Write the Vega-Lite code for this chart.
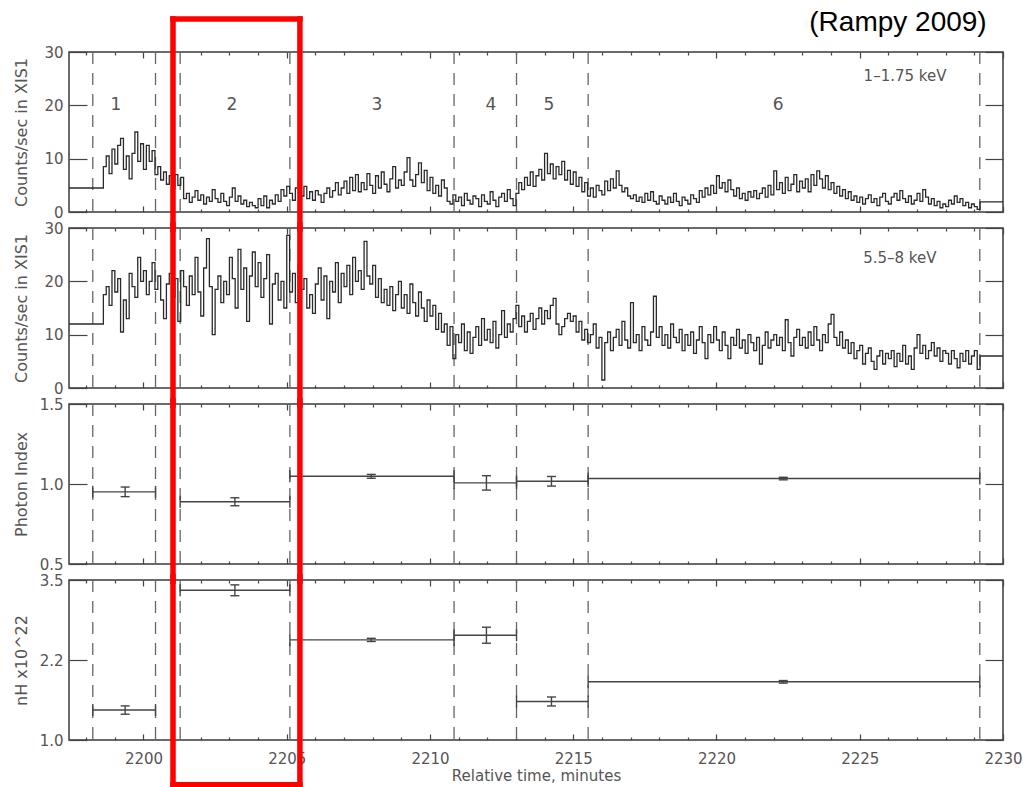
{
  "$schema": "https://vega.github.io/schema/vega-lite/v6.json",
  "background": "white",
  "padding": {"left": 12, "top": 8, "right": 5, "bottom": 2},
  "bounds": "flush",
  "spacing": 16,
  "config": {
    "view": {"stroke": "#3a3a3a", "strokeWidth": 1.5},
    "axis": {
      "grid": false, "domain": false,
      "labelFont": "DejaVu Sans", "labelFontSize": 15, "labelColor": "#555",
      "tickColor": "#444", "tickWidth": 1.2,
      "titleFont": "DejaVu Sans", "titleFontSize": 16, "titleFontWeight": "normal", "titleColor": "#555",
      "labelFlush": false, "labelOverlap": false, "labelBound": false
    }
  },
  "datasets": {
    "cuts": [{"t": 2198.23}, {"t": 2200.42}, {"t": 2201.28}, {"t": 2205.11}, {"t": 2210.84}, {"t": 2213.02}, {"t": 2215.52}, {"t": 2229.19}],
    "segs": [{"t": 2199.04, "n": "1"}, {"t": 2203.09, "n": "2"}, {"t": 2208.15, "n": "3"}, {"t": 2212.13, "n": "4"}, {"t": 2214.15, "n": "5"}, {"t": 2222.15, "n": "6"}],
    "box": [{"t0": 2201.03, "t1": 2205.46}],
    "fits": [
      {"seg": 1, "t0": 2198.23, "t1": 2200.42, "tm": 2199.36, "g": 0.951, "g_lo": 0.921, "g_hi": 0.981, "nh": 1.468, "nh_lo": 1.403, "nh_hi": 1.533},
      {"seg": 2, "t0": 2201.28, "t1": 2205.11, "tm": 2203.19, "g": 0.889, "g_lo": 0.864, "g_hi": 0.914, "nh": 3.339, "nh_lo": 3.254, "nh_hi": 3.424},
      {"seg": 3, "t0": 2205.11, "t1": 2210.84, "tm": 2207.95, "g": 1.048, "g_lo": 1.036, "g_hi": 1.06, "nh": 2.564, "nh_lo": 2.539, "nh_hi": 2.589},
      {"seg": 4, "t0": 2210.84, "t1": 2213.02, "tm": 2211.97, "g": 1.007, "g_lo": 0.962, "g_hi": 1.052, "nh": 2.637, "nh_lo": 2.512, "nh_hi": 2.762},
      {"seg": 5, "t0": 2213.02, "t1": 2215.52, "tm": 2214.24, "g": 1.017, "g_lo": 0.987, "g_hi": 1.047, "nh": 1.602, "nh_lo": 1.532, "nh_hi": 1.672},
      {"seg": 6, "t0": 2215.52, "t1": 2229.19, "tm": 2222.33, "g": 1.034, "g_lo": 1.026, "g_hi": 1.042, "nh": 1.909, "nh_lo": 1.889, "nh_hi": 1.929}
    ],
    "lc": [
      {"t":2197.4,"s":4.5,"h":12},
      {"t":2198.6,"s":8.5,"h":17.5},{"t":2198.7,"s":10.5,"h":19},{"t":2198.8,"s":7.2,"h":15.5},{"t":2198.9,"s":11.8,"h":22},
      {"t":2199,"s":9,"h":18},{"t":2199.1,"s":12.5,"h":20.5},{"t":2199.2,"s":13.8,"h":10.5},{"t":2199.3,"s":8,"h":16.5},{"t":2199.4,"s":10.5,"h":13},{"t":2199.5,"s":6.2,"h":21.5},{"t":2199.6,"s":11,"h":19},{"t":2199.7,"s":15,"h":17},{"t":2199.8,"s":9.5,"h":24.5},{"t":2199.9,"s":12.8,"h":20},
      {"t":2200,"s":8,"h":22},{"t":2200.1,"s":12.5,"h":17.5},{"t":2200.2,"s":9.5,"h":20},{"t":2200.3,"s":11.5,"h":23.5},{"t":2200.4,"s":7,"h":18.5},{"t":2200.5,"s":8.5,"h":21},{"t":2200.6,"s":6,"h":16.5},{"t":2200.7,"s":7.5,"h":13},{"t":2200.8,"s":5.2,"h":19.5},{"t":2200.9,"s":6.8,"h":21.5},
      {"t":2201,"s":4.5,"h":17},{"t":2201.1,"s":7,"h":20.5},{"t":2201.2,"s":5,"h":12.5},{"t":2201.3,"s":6.5,"h":22},{"t":2201.4,"s":2.5,"h":19},{"t":2201.5,"s":3.5,"h":15.5},{"t":2201.6,"s":1.8,"h":21},{"t":2201.7,"s":2.8,"h":17.5},{"t":2201.8,"s":4,"h":24.5},{"t":2201.9,"s":2.2,"h":18},
      {"t":2202,"s":3.2,"h":13.5},{"t":2202.1,"s":1.5,"h":22.5},{"t":2202.2,"s":2.8,"h":28},{"t":2202.3,"s":2,"h":19},{"t":2202.4,"s":4.2,"h":10},{"t":2202.5,"s":2.5,"h":18.5},{"t":2202.6,"s":1.8,"h":21},{"t":2202.7,"s":3.5,"h":16},{"t":2202.8,"s":2,"h":20},{"t":2202.9,"s":1.2,"h":17.5},
      {"t":2203,"s":2.8,"h":24.5},{"t":2203.1,"s":4.5,"h":20.5},{"t":2203.2,"s":2,"h":15},{"t":2203.3,"s":3,"h":26},{"t":2203.4,"s":1.5,"h":18.5},{"t":2203.5,"s":2.2,"h":22.5},{"t":2203.6,"s":1,"h":12.5},{"t":2203.7,"s":1.8,"h":21},{"t":2203.8,"s":1.2,"h":25.5},{"t":2203.9,"s":0.8,"h":19},
      {"t":2204,"s":2.5,"h":23.5},{"t":2204.1,"s":1.2,"h":17},{"t":2204.2,"s":3,"h":20.5},{"t":2204.3,"s":0.8,"h":25},{"t":2204.4,"s":2.2,"h":12},{"t":2204.5,"s":1.5,"h":19.5},{"t":2204.6,"s":3.2,"h":21.5},{"t":2204.7,"s":2,"h":16.5},{"t":2204.8,"s":4.2,"h":20},{"t":2204.9,"s":3,"h":15},
      {"t":2205,"s":4.8,"h":28.6},{"t":2205.1,"s":3.5,"h":18},{"t":2205.2,"s":2.2,"h":21.5},{"t":2205.3,"s":4.5,"h":16},{"t":2205.4,"s":6,"h":23},{"t":2205.5,"s":3,"h":18.5},{"t":2205.6,"s":4.8,"h":20.5},{"t":2205.7,"s":2.5,"h":15},{"t":2205.8,"s":3.8,"h":17.5},{"t":2205.9,"s":2.2,"h":14},
      {"t":2206,"s":4,"h":19.5},{"t":2206.1,"s":3.2,"h":22.5},{"t":2206.2,"s":1.8,"h":16.5},{"t":2206.3,"s":3.5,"h":21},{"t":2206.4,"s":4.5,"h":13},{"t":2206.5,"s":2.8,"h":20},{"t":2206.6,"s":4,"h":18},{"t":2206.7,"s":5.5,"h":23.5},{"t":2206.8,"s":3.2,"h":16},{"t":2206.9,"s":4.5,"h":21.5},
      {"t":2207,"s":5.8,"h":19},{"t":2207.1,"s":3.5,"h":23},{"t":2207.2,"s":6.5,"h":17.5},{"t":2207.3,"s":4,"h":24.5},{"t":2207.4,"s":7,"h":20},{"t":2207.5,"s":3.8,"h":22},{"t":2207.6,"s":5.5,"h":18.5},{"t":2207.7,"s":4.2,"h":27.5},{"t":2207.8,"s":7.2,"h":21},{"t":2207.9,"s":5,"h":19.5},
      {"t":2208,"s":3.5,"h":23},{"t":2208.1,"s":6.8,"h":17},{"t":2208.2,"s":4.5,"h":20.5},{"t":2208.3,"s":7.5,"h":16},{"t":2208.4,"s":5.2,"h":18.5},{"t":2208.5,"s":3.8,"h":15.5},{"t":2208.6,"s":6.2,"h":19},{"t":2208.7,"s":8.5,"h":14.5},{"t":2208.8,"s":4.5,"h":17.5},{"t":2208.9,"s":6,"h":20},
      {"t":2209,"s":5,"h":15},{"t":2209.1,"s":7.5,"h":17.5},{"t":2209.2,"s":10.2,"h":14},{"t":2209.3,"s":6,"h":19.5},{"t":2209.4,"s":4.8,"h":16},{"t":2209.5,"s":7,"h":13.5},{"t":2209.6,"s":9.2,"h":18},{"t":2209.7,"s":5.5,"h":15},{"t":2209.8,"s":7.8,"h":12.5},{"t":2209.9,"s":4,"h":16.5},
      {"t":2210,"s":6.5,"h":13.5},{"t":2210.1,"s":3.5,"h":15.5},{"t":2210.2,"s":5,"h":11},{"t":2210.3,"s":3,"h":14},{"t":2210.4,"s":6,"h":10.5},{"t":2210.5,"s":4.5,"h":12},{"t":2210.6,"s":2,"h":8},{"t":2210.7,"s":1.5,"h":11.5},{"t":2210.8,"s":3.2,"h":5.5},{"t":2210.9,"s":2,"h":10},
      {"t":2211,"s":2.8,"h":8.5},{"t":2211.1,"s":1.2,"h":12},{"t":2211.2,"s":3.5,"h":7},{"t":2211.3,"s":2.2,"h":10.5},{"t":2211.4,"s":1.5,"h":6.5},{"t":2211.5,"s":3,"h":9.5},{"t":2211.6,"s":2.5,"h":11.5},{"t":2211.7,"s":1,"h":8},{"t":2211.8,"s":3.2,"h":13},{"t":2211.9,"s":2,"h":9},
      {"t":2212,"s":1.5,"h":11},{"t":2212.1,"s":3.8,"h":8.5},{"t":2212.2,"s":2.2,"h":12.5},{"t":2212.3,"s":1,"h":7.5},{"t":2212.4,"s":2.8,"h":10},{"t":2212.5,"s":3.5,"h":14.5},{"t":2212.6,"s":2,"h":9.5},{"t":2212.7,"s":4.2,"h":12},{"t":2212.8,"s":2.5,"h":10.5},{"t":2212.9,"s":1.2,"h":13},
      {"t":2213,"s":3.5,"h":15.5},{"t":2213.1,"s":5.5,"h":11.5},{"t":2213.2,"s":4.2,"h":13.5},{"t":2213.3,"s":6.5,"h":10.5},{"t":2213.4,"s":5,"h":12.5},{"t":2213.5,"s":7.5,"h":14},{"t":2213.6,"s":4.8,"h":11},{"t":2213.7,"s":6.8,"h":13},{"t":2213.8,"s":8,"h":15},{"t":2213.9,"s":6,"h":12},
      {"t":2214,"s":11,"h":14.5},{"t":2214.1,"s":7.2,"h":13},{"t":2214.2,"s":9,"h":15.5},{"t":2214.3,"s":6.2,"h":16.8},{"t":2214.4,"s":8.5,"h":12},{"t":2214.5,"s":7,"h":10},{"t":2214.6,"s":9.5,"h":11.5},{"t":2214.7,"s":6,"h":13},{"t":2214.8,"s":7.8,"h":14},{"t":2214.9,"s":5.2,"h":12.5},
      {"t":2215,"s":7.5,"h":13.5},{"t":2215.1,"s":4.8,"h":10.5},{"t":2215.2,"s":6.5,"h":12.5},{"t":2215.3,"s":3.8,"h":9},{"t":2215.4,"s":5.5,"h":11},{"t":2215.5,"s":3,"h":8.5},{"t":2215.6,"s":4.5,"h":10},{"t":2215.7,"s":2.8,"h":12},{"t":2215.8,"s":5,"h":7.5},{"t":2215.9,"s":4,"h":9.5},
      {"t":2216,"s":3.2,"h":1.5},{"t":2216.1,"s":5.8,"h":8.5},{"t":2216.2,"s":4,"h":10.5},{"t":2216.3,"s":6.2,"h":7},{"t":2216.4,"s":4.5,"h":9.5},{"t":2216.5,"s":7.7,"h":11},{"t":2216.6,"s":5,"h":8},{"t":2216.7,"s":3.8,"h":12.5},{"t":2216.8,"s":4.5,"h":9},{"t":2216.9,"s":3,"h":7.5},
      {"t":2217,"s":2.5,"h":16},{"t":2217.1,"s":3.2,"h":8.5},{"t":2217.2,"s":2,"h":10},{"t":2217.3,"s":2.8,"h":7},{"t":2217.4,"s":1.8,"h":11.5},{"t":2217.5,"s":3.5,"h":9},{"t":2217.6,"s":2.2,"h":8},{"t":2217.7,"s":3.8,"h":10.5},{"t":2217.8,"s":2,"h":17.2},{"t":2217.9,"s":1.5,"h":9.5},
      {"t":2218,"s":3,"h":11.5},{"t":2218.1,"s":2.2,"h":8},{"t":2218.2,"s":1.5,"h":10},{"t":2218.3,"s":2.8,"h":7.5},{"t":2218.4,"s":1.8,"h":12},{"t":2218.5,"s":3.5,"h":9.5},{"t":2218.6,"s":2,"h":8.5},{"t":2218.7,"s":1.2,"h":11},{"t":2218.8,"s":2.8,"h":7},{"t":2218.9,"s":2.2,"h":10},
      {"t":2219,"s":1.5,"h":8},{"t":2219.1,"s":3.2,"h":10.5},{"t":2219.2,"s":2.5,"h":6.5},{"t":2219.3,"s":1.8,"h":9},{"t":2219.4,"s":4,"h":11.5},{"t":2219.5,"s":2.8,"h":8.5},{"t":2219.6,"s":4.5,"h":5.5},{"t":2219.7,"s":3.2,"h":10},{"t":2219.8,"s":5,"h":8.5},{"t":2219.9,"s":3.5,"h":11.5},
      {"t":2220,"s":6.8,"h":9},{"t":2220.1,"s":4.5,"h":7},{"t":2220.2,"s":5.5,"h":10.5},{"t":2220.3,"s":3.8,"h":8},{"t":2220.4,"s":6,"h":5.5},{"t":2220.5,"s":4.2,"h":9.5},{"t":2220.6,"s":3,"h":8},{"t":2220.7,"s":4.5,"h":11},{"t":2220.8,"s":2.5,"h":7.5},{"t":2220.9,"s":3.5,"h":9},
      {"t":2221,"s":2.2,"h":6.5},{"t":2221.1,"s":3.8,"h":10},{"t":2221.2,"s":2.8,"h":8.5},{"t":2221.3,"s":4,"h":7},{"t":2221.4,"s":2.5,"h":9.5},{"t":2221.5,"s":3.5,"h":4.5},{"t":2221.6,"s":4.5,"h":8},{"t":2221.7,"s":2.8,"h":10.5},{"t":2221.8,"s":5,"h":7.5},{"t":2221.9,"s":3.2,"h":9},
      {"t":2222,"s":7.7,"h":10},{"t":2222.1,"s":4.2,"h":8},{"t":2222.2,"s":5.5,"h":9.5},{"t":2222.3,"s":3.5,"h":7},{"t":2222.4,"s":6.5,"h":12.8},{"t":2222.5,"s":4,"h":8.5},{"t":2222.6,"s":5.2,"h":6},{"t":2222.7,"s":7,"h":9.5},{"t":2222.8,"s":3.8,"h":11},{"t":2222.9,"s":5.8,"h":8},
      {"t":2223,"s":4.5,"h":9.5},{"t":2223.1,"s":6.2,"h":7.5},{"t":2223.2,"s":3.8,"h":10.5},{"t":2223.3,"s":7,"h":8},{"t":2223.4,"s":5,"h":11.5},{"t":2223.5,"s":7.7,"h":9},{"t":2223.6,"s":6.2,"h":7},{"t":2223.7,"s":4.5,"h":10},{"t":2223.8,"s":6.8,"h":8.5},{"t":2223.9,"s":4.2,"h":12},
      {"t":2224,"s":5.5,"h":13.8},{"t":2224.1,"s":3.5,"h":9.5},{"t":2224.2,"s":4.8,"h":8},{"t":2224.3,"s":3,"h":10.5},{"t":2224.4,"s":4.2,"h":7.5},{"t":2224.5,"s":2.5,"h":9},{"t":2224.6,"s":3.8,"h":6.5},{"t":2224.7,"s":2.2,"h":8.5},{"t":2224.8,"s":3,"h":5.5},{"t":2224.9,"s":1.8,"h":7},
      {"t":2225,"s":2.8,"h":8},{"t":2225.1,"s":1.5,"h":4.5},{"t":2225.2,"s":2.5,"h":6.5},{"t":2225.3,"s":3.2,"h":7.5},{"t":2225.4,"s":1.8,"h":5},{"t":2225.5,"s":2.5,"h":3.5},{"t":2225.6,"s":1.2,"h":6},{"t":2225.7,"s":2.8,"h":7},{"t":2225.8,"s":3.5,"h":4.5},{"t":2225.9,"s":2,"h":6.5},
      {"t":2226,"s":1.5,"h":5.5},{"t":2226.1,"s":2.8,"h":7},{"t":2226.2,"s":3.5,"h":4},{"t":2226.3,"s":2.2,"h":6.5},{"t":2226.4,"s":4,"h":5},{"t":2226.5,"s":2.5,"h":8},{"t":2226.6,"s":1.8,"h":4.5},{"t":2226.7,"s":3,"h":6},{"t":2226.8,"s":1.5,"h":3.5},{"t":2226.9,"s":2.2,"h":7.5},
      {"t":2227,"s":3.5,"h":10},{"t":2227.1,"s":2,"h":6.5},{"t":2227.2,"s":4.2,"h":8},{"t":2227.3,"s":2.8,"h":5.5},{"t":2227.4,"s":1.5,"h":7},{"t":2227.5,"s":2.5,"h":8.5},{"t":2227.6,"s":1.2,"h":6},{"t":2227.7,"s":2,"h":7.5},{"t":2227.8,"s":0.8,"h":5},{"t":2227.9,"s":1.5,"h":7},
      {"t":2228,"s":1,"h":6.5},{"t":2228.1,"s":2.2,"h":4.5},{"t":2228.2,"s":1.5,"h":7},{"t":2228.3,"s":3,"h":5.5},{"t":2228.4,"s":1.8,"h":3.8},{"t":2228.5,"s":2.5,"h":6.5},{"t":2228.6,"s":1.2,"h":5},{"t":2228.7,"s":1.8,"h":7},{"t":2228.8,"s":0.8,"h":4.5},{"t":2228.9,"s":1.5,"h":6},
      {"t":2229,"s":1,"h":7},{"t":2229.1,"s":0.5,"h":3.5},{"t":2229.2,"s":1.9,"h":6},{"t":2230,"s":1.9,"h":6}
    ]
  },
  "vconcat": [
    {
      "width": 934, "height": 160,
      "resolve": {"axis": {"x": "independent", "y": "independent"}},
      "layer": [
        {
          "data": {"name": "cuts"},
          "mark": {"type": "rule", "strokeDash": [12, 9], "color": "#666", "strokeWidth": 1.3},
          "encoding": {"x": {"field": "t", "type": "quantitative", "scale": {"domain": [2197.4, 2230], "nice": false, "zero": false},
            "axis": {"orient": "top", "values": [2198,2199,2200,2201,2202,2203,2204,2205,2206,2207,2208,2209,2210,2211,2212,2213,2214,2215,2216,2217,2218,2219,2220,2221,2222,2223,2224,2225,2226,2227,2228,2229,2230], "labels": false, "tickSize": {"condition": {"test": "datum.value % 5 === 0", "value": -6}, "value": -3}, "title": null}}}
        },
        {
          "data": {"name": "lc"},
          "mark": {"type": "line", "interpolate": "step-after", "color": "#2a2a2a", "strokeWidth": 1.3},
          "encoding": {
            "x": {"field": "t", "type": "quantitative", "scale": {"domain": [2197.4, 2230], "nice": false, "zero": false},
              "axis": {"orient": "bottom", "values": [2198,2199,2200,2201,2202,2203,2204,2205,2206,2207,2208,2209,2210,2211,2212,2213,2214,2215,2216,2217,2218,2219,2220,2221,2222,2223,2224,2225,2226,2227,2228,2229,2230], "labels": false, "tickSize": {"condition": {"test": "datum.value % 5 === 0", "value": -6}, "value": -3}, "title": null}},
            "y": {"field": "s", "type": "quantitative", "scale": {"domain": [0, 30], "nice": false, "zero": false},
              "axis": {"orient": "left", "values": [0, 10, 20, 30], "tickSize": -18, "labelPadding": 24, "title": "Counts/sec in XIS1", "titlePadding": 10, "minExtent": 30, "maxExtent": 30}}
          }
        },
        {
          "data": {"name": "segs"},
          "mark": {"type": "text", "font": "DejaVu Sans", "fontSize": 17, "color": "#555"},
          "encoding": {
            "x": {"field": "t", "type": "quantitative", "axis": null},
            "y": {"datum": 20, "type": "quantitative", "axis": null},
            "text": {"field": "n"}
          }
        },
        {
          "data": {"name": "box"},
          "mark": {"type": "text", "font": "DejaVu Sans", "fontSize": 15, "color": "#555"},
          "encoding": {
            "x": {"datum": 2226.58, "type": "quantitative", "axis": null},
            "y": {"datum": 25.5, "type": "quantitative", "axis": null},
            "text": {"value": "1–1.75 keV"}
          }
        },
        {
          "data": {"name": "box"},
          "mark": {"type": "rule", "color": "#ff0000", "strokeWidth": 5.5, "strokeCap": "square"},
          "encoding": {
            "x": {"field": "t0", "type": "quantitative", "axis": null},
            "y": {"datum": 36.2, "type": "quantitative", "scale": {"domain": [0, 30], "nice": false, "zero": false},
              "axis": {"orient": "right", "values": [0, 10, 20, 30], "labels": false, "tickSize": -18, "title": null}},
            "y2": {"datum": -3.2}
          }
        },
        {
          "data": {"name": "box"},
          "mark": {"type": "rule", "color": "#ff0000", "strokeWidth": 5.5, "strokeCap": "square"},
          "encoding": {
            "x": {"field": "t1", "type": "quantitative", "axis": null},
            "y": {"datum": 36.2, "type": "quantitative", "axis": null},
            "y2": {"datum": -3.2}
          }
        },
        {
          "data": {"name": "box"},
          "mark": {"type": "rule", "color": "#ff0000", "strokeWidth": 5.5, "strokeCap": "square"},
          "encoding": {
            "x": {"field": "t0", "type": "quantitative", "axis": null},
            "x2": {"field": "t1"},
            "y": {"datum": 36.2, "type": "quantitative", "axis": null}
          }
        },
        {
          "data": {"name": "box"},
          "mark": {"type": "text", "font": "Liberation Sans", "fontSize": 28, "color": "#000", "align": "right", "baseline": "middle"},
          "encoding": {
            "x": {"datum": 2229.43, "type": "quantitative", "axis": null},
            "y": {"datum": 35.4, "type": "quantitative", "axis": null},
            "text": {"value": "(Rampy 2009)"}
          }
        }
      ]
    },
    {
      "width": 934, "height": 160,
      "resolve": {"axis": {"x": "independent", "y": "independent"}},
      "layer": [
        {
          "data": {"name": "cuts"},
          "mark": {"type": "rule", "strokeDash": [12, 9], "color": "#666", "strokeWidth": 1.3},
          "encoding": {"x": {"field": "t", "type": "quantitative", "scale": {"domain": [2197.4, 2230], "nice": false, "zero": false},
            "axis": {"orient": "top", "values": [2198,2199,2200,2201,2202,2203,2204,2205,2206,2207,2208,2209,2210,2211,2212,2213,2214,2215,2216,2217,2218,2219,2220,2221,2222,2223,2224,2225,2226,2227,2228,2229,2230], "labels": false, "tickSize": {"condition": {"test": "datum.value % 5 === 0", "value": -6}, "value": -3}, "title": null}}}
        },
        {
          "data": {"name": "lc"},
          "mark": {"type": "line", "interpolate": "step-after", "color": "#2a2a2a", "strokeWidth": 1.3},
          "encoding": {
            "x": {"field": "t", "type": "quantitative", "scale": {"domain": [2197.4, 2230], "nice": false, "zero": false},
              "axis": {"orient": "bottom", "values": [2198,2199,2200,2201,2202,2203,2204,2205,2206,2207,2208,2209,2210,2211,2212,2213,2214,2215,2216,2217,2218,2219,2220,2221,2222,2223,2224,2225,2226,2227,2228,2229,2230], "labels": false, "tickSize": {"condition": {"test": "datum.value % 5 === 0", "value": -6}, "value": -3}, "title": null}},
            "y": {"field": "h", "type": "quantitative", "scale": {"domain": [0, 30], "nice": false, "zero": false},
              "axis": {"orient": "left", "values": [0, 10, 20, 30], "tickSize": -18, "labelPadding": 24, "title": "Counts/sec in XIS1", "titlePadding": 10, "minExtent": 30, "maxExtent": 30}}
          }
        },
        {
          "data": {"name": "box"},
          "mark": {"type": "text", "font": "DejaVu Sans", "fontSize": 15, "color": "#555"},
          "encoding": {
            "x": {"datum": 2226.4, "type": "quantitative", "axis": null},
            "y": {"datum": 24.3, "type": "quantitative", "axis": null},
            "text": {"value": "5.5–8 keV"}
          }
        },
        {
          "data": {"name": "box"},
          "mark": {"type": "rule", "color": "#ff0000", "strokeWidth": 5.5, "strokeCap": "square"},
          "encoding": {
            "x": {"field": "t0", "type": "quantitative", "axis": null},
            "y": {"datum": 30.5, "type": "quantitative", "scale": {"domain": [0, 30], "nice": false, "zero": false},
              "axis": {"orient": "right", "values": [0, 10, 20, 30], "labels": false, "tickSize": -18, "title": null}},
            "y2": {"datum": -3.2}
          }
        },
        {
          "data": {"name": "box"},
          "mark": {"type": "rule", "color": "#ff0000", "strokeWidth": 5.5, "strokeCap": "square"},
          "encoding": {
            "x": {"field": "t1", "type": "quantitative", "axis": null},
            "y": {"datum": 30.5, "type": "quantitative", "axis": null},
            "y2": {"datum": -3.2}
          }
        }
      ]
    },
    {
      "width": 934, "height": 160,
      "resolve": {"axis": {"x": "independent", "y": "independent"}},
      "layer": [
        {
          "data": {"name": "cuts"},
          "mark": {"type": "rule", "strokeDash": [12, 9], "color": "#666", "strokeWidth": 1.3},
          "encoding": {"x": {"field": "t", "type": "quantitative", "scale": {"domain": [2197.4, 2230], "nice": false, "zero": false},
            "axis": {"orient": "top", "values": [2198,2199,2200,2201,2202,2203,2204,2205,2206,2207,2208,2209,2210,2211,2212,2213,2214,2215,2216,2217,2218,2219,2220,2221,2222,2223,2224,2225,2226,2227,2228,2229,2230], "labels": false, "tickSize": {"condition": {"test": "datum.value % 5 === 0", "value": -6}, "value": -3}, "title": null}}}
        },
        {
          "data": {"name": "fits"},
          "mark": {"type": "rule", "color": "#444", "strokeWidth": 1.4},
          "encoding": {
            "x": {"field": "t0", "type": "quantitative", "scale": {"domain": [2197.4, 2230], "nice": false, "zero": false},
              "axis": {"orient": "bottom", "values": [2198,2199,2200,2201,2202,2203,2204,2205,2206,2207,2208,2209,2210,2211,2212,2213,2214,2215,2216,2217,2218,2219,2220,2221,2222,2223,2224,2225,2226,2227,2228,2229,2230], "labels": false, "tickSize": {"condition": {"test": "datum.value % 5 === 0", "value": -6}, "value": -3}, "title": null}},
            "x2": {"field": "t1"},
            "y": {"field": "g", "type": "quantitative", "scale": {"domain": [0.5, 1.5], "nice": false, "zero": false},
              "axis": {"orient": "left", "values": [0.5, 1.0, 1.5], "format": ".1f", "tickSize": -18, "labelPadding": 24, "title": "Photon Index", "titlePadding": 10, "minExtent": 30, "maxExtent": 30}}
          }
        },
        {
          "data": {"name": "fits"},
          "mark": {"type": "tick", "orient": "vertical", "size": 12, "thickness": 1.4, "color": "#444", "opacity": 1},
          "encoding": {
            "x": {"field": "t0", "type": "quantitative", "axis": null},
            "y": {"field": "g", "type": "quantitative", "axis": null}
          }
        },
        {
          "data": {"name": "fits"},
          "mark": {"type": "tick", "orient": "vertical", "size": 12, "thickness": 1.4, "color": "#444", "opacity": 1},
          "encoding": {
            "x": {"field": "t1", "type": "quantitative", "axis": null},
            "y": {"field": "g", "type": "quantitative", "axis": null}
          }
        },
        {
          "data": {"name": "fits"},
          "mark": {"type": "rule", "color": "#444", "strokeWidth": 1.4},
          "encoding": {
            "x": {"field": "tm", "type": "quantitative", "axis": null},
            "y": {"field": "g_lo", "type": "quantitative", "axis": null},
            "y2": {"field": "g_hi"}
          }
        },
        {
          "data": {"name": "fits"},
          "mark": {"type": "tick", "orient": "horizontal", "size": 9, "thickness": 1.4, "color": "#444", "opacity": 1},
          "encoding": {
            "x": {"field": "tm", "type": "quantitative", "axis": null},
            "y": {"field": "g_lo", "type": "quantitative", "axis": null}
          }
        },
        {
          "data": {"name": "fits"},
          "mark": {"type": "tick", "orient": "horizontal", "size": 9, "thickness": 1.4, "color": "#444", "opacity": 1},
          "encoding": {
            "x": {"field": "tm", "type": "quantitative", "axis": null},
            "y": {"field": "g_hi", "type": "quantitative", "axis": null}
          }
        },
        {
          "data": {"name": "box"},
          "mark": {"type": "rule", "color": "#ff0000", "strokeWidth": 5.5, "strokeCap": "square"},
          "encoding": {
            "x": {"field": "t0", "type": "quantitative", "axis": null},
            "y": {"datum": 1.52, "type": "quantitative", "scale": {"domain": [0.5, 1.5], "nice": false, "zero": false},
              "axis": {"orient": "right", "values": [0.5, 1.0, 1.5], "labels": false, "tickSize": -18, "title": null}},
            "y2": {"datum": 0.39}
          }
        },
        {
          "data": {"name": "box"},
          "mark": {"type": "rule", "color": "#ff0000", "strokeWidth": 5.5, "strokeCap": "square"},
          "encoding": {
            "x": {"field": "t1", "type": "quantitative", "axis": null},
            "y": {"datum": 1.52, "type": "quantitative", "axis": null},
            "y2": {"datum": 0.39}
          }
        }
      ]
    },
    {
      "width": 934, "height": 160,
      "resolve": {"axis": {"x": "independent", "y": "independent"}},
      "layer": [
        {
          "data": {"name": "cuts"},
          "mark": {"type": "rule", "strokeDash": [12, 9], "color": "#666", "strokeWidth": 1.3},
          "encoding": {"x": {"field": "t", "type": "quantitative", "scale": {"domain": [2197.4, 2230], "nice": false, "zero": false},
            "axis": {"orient": "top", "values": [2198,2199,2200,2201,2202,2203,2204,2205,2206,2207,2208,2209,2210,2211,2212,2213,2214,2215,2216,2217,2218,2219,2220,2221,2222,2223,2224,2225,2226,2227,2228,2229,2230], "labels": false, "tickSize": {"condition": {"test": "datum.value % 5 === 0", "value": -6}, "value": -3}, "title": null}}}
        },
        {
          "data": {"name": "fits"},
          "mark": {"type": "rule", "color": "#444", "strokeWidth": 1.4},
          "encoding": {
            "x": {"field": "t0", "type": "quantitative", "scale": {"domain": [2197.4, 2230], "nice": false, "zero": false},
              "axis": {"orient": "bottom", "values": [2198,2199,2200,2201,2202,2203,2204,2205,2206,2207,2208,2209,2210,2211,2212,2213,2214,2215,2216,2217,2218,2219,2220,2221,2222,2223,2224,2225,2226,2227,2228,2229,2230],
                "tickSize": {"condition": {"test": "datum.value % 5 === 0", "value": -6}, "value": -3},
                "labelPadding": 17,
                "labelExpr": "datum.value % 5 === 0 ? format(datum.value, 'd') : ''",
                "title": "Relative time, minutes", "titleFontSize": 15, "titlePadding": -1}},
            "x2": {"field": "t1"},
            "y": {"field": "nh", "type": "quantitative", "scale": {"domain": [1.0, 3.5], "nice": false, "zero": false},
              "axis": {"orient": "left", "values": [1.0, 2.25, 3.5], "labelExpr": "datum.value === 2.25 ? '2.2' : format(datum.value, '.1f')", "tickSize": -18, "labelPadding": 24, "title": "nH x10^22", "titlePadding": 10, "minExtent": 30, "maxExtent": 30}}
          }
        },
        {
          "data": {"name": "fits"},
          "mark": {"type": "tick", "orient": "vertical", "size": 12, "thickness": 1.4, "color": "#444", "opacity": 1},
          "encoding": {
            "x": {"field": "t0", "type": "quantitative", "axis": null},
            "y": {"field": "nh", "type": "quantitative", "axis": null}
          }
        },
        {
          "data": {"name": "fits"},
          "mark": {"type": "tick", "orient": "vertical", "size": 12, "thickness": 1.4, "color": "#444", "opacity": 1},
          "encoding": {
            "x": {"field": "t1", "type": "quantitative", "axis": null},
            "y": {"field": "nh", "type": "quantitative", "axis": null}
          }
        },
        {
          "data": {"name": "fits"},
          "mark": {"type": "rule", "color": "#444", "strokeWidth": 1.4},
          "encoding": {
            "x": {"field": "tm", "type": "quantitative", "axis": null},
            "y": {"field": "nh_lo", "type": "quantitative", "axis": null},
            "y2": {"field": "nh_hi"}
          }
        },
        {
          "data": {"name": "fits"},
          "mark": {"type": "tick", "orient": "horizontal", "size": 9, "thickness": 1.4, "color": "#444", "opacity": 1},
          "encoding": {
            "x": {"field": "tm", "type": "quantitative", "axis": null},
            "y": {"field": "nh_lo", "type": "quantitative", "axis": null}
          }
        },
        {
          "data": {"name": "fits"},
          "mark": {"type": "tick", "orient": "horizontal", "size": 9, "thickness": 1.4, "color": "#444", "opacity": 1},
          "encoding": {
            "x": {"field": "tm", "type": "quantitative", "axis": null},
            "y": {"field": "nh_hi", "type": "quantitative", "axis": null}
          }
        },
        {
          "data": {"name": "box"},
          "mark": {"type": "rule", "color": "#ff0000", "strokeWidth": 5.5, "strokeCap": "square"},
          "encoding": {
            "x": {"field": "t0", "type": "quantitative", "axis": null},
            "y": {"datum": 3.55, "type": "quantitative", "scale": {"domain": [1.0, 3.5], "nice": false, "zero": false},
              "axis": {"orient": "right", "values": [1.0, 2.25, 3.5], "labels": false, "tickSize": -18, "title": null}},
            "y2": {"datum": 0.3}
          }
        },
        {
          "data": {"name": "box"},
          "mark": {"type": "rule", "color": "#ff0000", "strokeWidth": 5.5, "strokeCap": "square"},
          "encoding": {
            "x": {"field": "t1", "type": "quantitative", "axis": null},
            "y": {"datum": 3.55, "type": "quantitative", "axis": null},
            "y2": {"datum": 0.3}
          }
        },
        {
          "data": {"name": "box"},
          "mark": {"type": "rule", "color": "#ff0000", "strokeWidth": 5.5, "strokeCap": "square"},
          "encoding": {
            "x": {"field": "t0", "type": "quantitative", "axis": null},
            "x2": {"field": "t1"},
            "y": {"datum": 0.3, "type": "quantitative", "axis": null}
          }
        }
      ]
    }
  ]
}
